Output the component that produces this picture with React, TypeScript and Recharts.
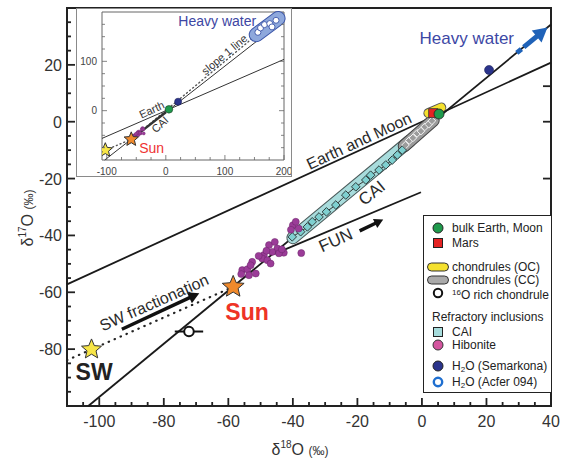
import {
  ErrorBar,
  ReferenceArea,
  ReferenceDot,
  ReferenceLine,
  Scatter,
  ScatterChart,
  XAxis,
  YAxis,
} from "recharts";

const FONT = "'Liberation Sans', Arial, Helvetica, sans-serif";

// ---- main panel axes ----
const xTicks = [
  -105, -100, -95, -90, -85, -80, -75, -70, -65, -60, -55, -50, -45, -40, -35,
  -30, -25, -20, -15, -10, -5, 0, 5, 10, 15, 20, 25, 30, 35, 40,
];
const xTickLabels = [-100, -80, -60, -40, -20, 0, 20, 40];
const yTicks = [
  -95, -90, -85, -80, -75, -70, -65, -60, -55, -50, -45, -40, -35, -30, -25,
  -20, -15, -10, -5, 0, 5, 10, 15, 20, 25, 30, 35,
];
const yTickLabels = [-80, -60, -40, -20, 0, 20];
const topTicks = [-20, 0, 20];
const rightTicks = [-20, 0, 12.5];

// ---- inset axes ----
const insetXTicks = [-100, -75, -50, -25, 0, 25, 50, 75, 100, 125, 150, 175, 200];
const insetXLabels = [-100, 0, 100, 200];
const insetYTicks = [-75, -50, -25, 0, 25, 50, 75, 100, 125, 150, 175];
const insetYLabels = [0, 100];

// ---- samples (δ18O, δ17O in ‰) ----
const sw = [{ x: -102.4, y: -80.1 }];
const sun = [{ x: -58.5, y: -58.1 }];
const bulkEarth = [{ x: 5.3, y: 2.7 }];
const mars = [{ x: 3.5, y: 3.0 }];
const semarkona = [{ x: 20.8, y: 18.2 }];
const o16Chondrule = [{ x: -72.2, y: -73.8, err: 4.4 }];

const cai = [
  { x: -40.2, y: -40.5 }, { x: -37.6, y: -38.7 }, { x: -35.5, y: -37.0 },
  { x: -34.0, y: -35.2 }, { x: -31.9, y: -33.5 }, { x: -29.6, y: -31.7 },
  { x: -26.7, y: -29.3 }, { x: -23.6, y: -25.8 }, { x: -20.5, y: -22.9 },
  { x: -17.4, y: -20.5 }, { x: -15.9, y: -18.8 }, { x: -13.3, y: -17.0 },
  { x: -11.2, y: -15.2 }, { x: -9.2, y: -13.5 }, { x: -7.6, y: -11.7 },
  { x: -6.1, y: -10.0 },
];

const ccChondrules = [
  { x: -5.1, y: -8.2 }, { x: -3.9, y: -6.6 }, { x: -2.8, y: -5.7 },
  { x: -1.5, y: -4.1 }, { x: -0.3, y: -3.3 }, { x: 0.9, y: -1.8 },
  { x: 2.1, y: -0.9 }, { x: 3.1, y: 0.3 },
];

const hibonite = [
  { x: -40.0, y: -36.4 }, { x: -39.1, y: -35.2 }, { x: -40.6, y: -38.0 },
  { x: -38.2, y: -37.6 }, { x: -47.4, y: -43.4 }, { x: -45.6, y: -42.3 },
  { x: -44.8, y: -44.6 }, { x: -46.4, y: -45.8 }, { x: -49.0, y: -46.9 },
  { x: -49.5, y: -48.1 }, { x: -47.9, y: -48.7 }, { x: -46.9, y: -49.9 },
  { x: -42.8, y: -46.1 }, { x: -37.4, y: -46.2 }, { x: -52.6, y: -49.3 },
  { x: -55.7, y: -52.2 }, { x: -54.1, y: -51.9 }, { x: -53.6, y: -54.0 },
  { x: -51.5, y: -53.4 }, { x: -56.0, y: -53.6 }, { x: -53.1, y: -50.5 },
  { x: -44.3, y: -46.3 }, { x: -48.2, y: -45.4 }, { x: -50.6, y: -47.2 },
  { x: -43.4, y: -44.9 },
];

const acfer094 = [
  { x: 155.8, y: 158.8 }, { x: 160.3, y: 167.7 }, { x: 167.0, y: 174.4 },
  { x: 175.9, y: 176.5 }, { x: 186.5, y: 183.2 }, { x: 179.7, y: 169.8 },
];

// ---- lines, bands and arrows (end points in data units) ----
const slopeLine = [{ x: -103.4, y: -100 }, { x: 40, y: 34.2 }];
const tflLine = [{ x: -110, y: -57.2 }, { x: 40, y: 20.8 }];
const funLine = [{ x: -45.7, y: -46.5 }, { x: -0.3, y: -24.8 }];
const swFracLine = [{ x: -110, y: -83.9 }, { x: -58.5, y: -58.1 }];
const caiBand = [{ x: -40, y: -40.8 }, { x: -4, y: -7 }];
const ccBand = [{ x: -5.5, y: -8.5 }, { x: 3.5, y: 0.5 }];
const ocBand = [{ x: 2, y: 3 }, { x: 6, y: 5 }];
const heavyWaterArrow = [{ x: 29.4, y: 24.2 }, { x: 38.9, y: 33.1 }];
const swArrow = [{ x: -93, y: -73 }, { x: -69, y: -60.3 }];
const funArrow = [{ x: -19.3, y: -38.4 }, { x: -12, y: -34.4 }];

const insetTfl = [{ x: -108, y: -56.2 }, { x: 200, y: 104 }];
const insetSlopeLine = [{ x: -103.4, y: -100 }, { x: 200, y: 184 }];
const slopeOneLine = [{ x: -58.5, y: -58 }, { x: 200, y: 200 }];
const insetSwLine = [{ x: -102.4, y: -80.1 }, { x: -58.5, y: -58.1 }];
const insetCai = [{ x: -42, y: -42.5 }, { x: 0, y: -3.2 }];
const heavyWaterBand = [{ x: 153, y: 154 }, { x: 190, y: 187 }];

// ---- helpers ----
function starPoints(cx: number, cy: number, r: number) {
  const pts: string[] = [];
  for (let i = 0; i < 10; i++) {
    const rad = i % 2 === 0 ? r : r * 0.45;
    const a = -Math.PI / 2 + (i * Math.PI) / 5;
    pts.push(`${cx + rad * Math.cos(a)},${cy + rad * Math.sin(a)}`);
  }
  return pts.join(" ");
}

const starShape = (fill: string, r: number) => (p: any) => (
  <polygon points={starPoints(p.cx, p.cy, r)} fill={fill} stroke="#333" strokeWidth={1} />
);

const dotShape = (fill: string, stroke: string, r: number, sw = 0.8) => (p: any) => (
  <circle cx={p.cx} cy={p.cy} r={r} fill={fill} stroke={stroke} strokeWidth={sw} />
);

const diamondShape = (fill: string, stroke: string, s: number, sw = 0.8) => (p: any) => (
  <polygon
    points={`${p.cx},${p.cy - s} ${p.cx + s},${p.cy} ${p.cx},${p.cy + s} ${p.cx - s},${p.cy}`}
    fill={fill}
    stroke={stroke}
    strokeWidth={sw}
  />
);

const capsule = (fill: string, stroke: string, w: number) => (p: any) => (
  <g>
    <line x1={p.x1} y1={p.y1} x2={p.x2} y2={p.y2} stroke={stroke} strokeWidth={w + 2} strokeLinecap="round" />
    <line x1={p.x1} y1={p.y1} x2={p.x2} y2={p.y2} stroke={fill} strokeWidth={w} strokeLinecap="round" />
  </g>
);

const arrowShape = (color: string, w: number, head: number, dashed = false) => (p: any) => {
  const dx = p.x2 - p.x1;
  const dy = p.y2 - p.y1;
  const len = Math.hypot(dx, dy);
  const ux = dx / len;
  const uy = dy / len;
  const bx = p.x2 - ux * head;
  const by = p.y2 - uy * head;
  const hw = head * 0.55;
  return (
    <g>
      <line
        x1={p.x1}
        y1={p.y1}
        x2={bx + ux}
        y2={by + uy}
        stroke={color}
        strokeWidth={w}
        strokeDasharray={dashed ? `6 3 ${len} 0` : undefined}
      />
      <polygon
        points={`${p.x2},${p.y2} ${bx - uy * hw},${by + ux * hw} ${bx + uy * hw},${by - ux * hw}`}
        fill={color}
      />
    </g>
  );
};

const textShape = (text: string, angle: number, size: number, color: string, bold = false) => (p: any) => (
  <text
    x={p.cx}
    y={p.cy}
    transform={`rotate(${angle} ${p.cx} ${p.cy})`}
    textAnchor="middle"
    dominantBaseline="central"
    fontFamily={FONT}
    fontSize={size}
    fontWeight={bold ? 700 : 400}
    fill={color}
  >
    {text}
  </text>
);

// ---- axis tick renderers (ticks point inwards) ----
const BottomTick = (p: any) => {
  const major = xTickLabels.includes(p.payload.value);
  return (
    <g>
      <line x1={p.x} y1={p.y} x2={p.x} y2={p.y - (major ? 8 : 4)} stroke="#222" strokeWidth={1.8} />
      {major && (
        <text x={p.x} y={p.y + 21} textAnchor="middle" fontFamily={FONT} fontSize={16} fill="#333">
          {p.payload.value}
        </text>
      )}
    </g>
  );
};

const LeftTick = (p: any) => {
  const major = yTickLabels.includes(p.payload.value);
  return (
    <g>
      <line x1={p.x} y1={p.y} x2={p.x + (major ? 8 : 4)} y2={p.y} stroke="#222" strokeWidth={1.8} />
      {major && (
        <text x={p.x - 5} y={p.y + 6} textAnchor="end" fontFamily={FONT} fontSize={16} fill="#333">
          {p.payload.value}
        </text>
      )}
    </g>
  );
};

const TopTick = (p: any) => (
  <line x1={p.x} y1={p.y} x2={p.x} y2={p.y + 8} stroke="#222" strokeWidth={1.8} />
);

const RightTick = (p: any) => (
  <line x1={p.x} y1={p.y} x2={p.x - 8} y2={p.y} stroke="#222" strokeWidth={1.8} />
);

const InsetBottomTick = (p: any) => {
  const major = insetXLabels.includes(p.payload.value);
  return (
    <g>
      <line x1={p.x} y1={p.y} x2={p.x} y2={p.y - (major ? 5 : 3)} stroke="#666" strokeWidth={0.8} />
      {major && (
        <text x={p.x} y={p.y + 15} textAnchor="middle" fontFamily={FONT} fontSize={10} fill="#444">
          {p.payload.value}
        </text>
      )}
    </g>
  );
};

const InsetTopTick = (p: any) => {
  const major = insetXLabels.includes(p.payload.value);
  return <line x1={p.x} y1={p.y} x2={p.x} y2={p.y + (major ? 5 : 3)} stroke="#666" strokeWidth={0.8} />;
};

const InsetLeftTick = (p: any) => {
  const major = insetYLabels.includes(p.payload.value);
  return (
    <g>
      <line x1={p.x} y1={p.y} x2={p.x + (major ? 5 : 3)} y2={p.y} stroke="#666" strokeWidth={0.8} />
      {major && (
        <text x={p.x - 5} y={p.y + 3.5} textAnchor="end" fontFamily={FONT} fontSize={10} fill="#444">
          {p.payload.value}
        </text>
      )}
    </g>
  );
};

const InsetRightTick = (p: any) => {
  const major = insetYLabels.includes(p.payload.value);
  return <line x1={p.x} y1={p.y} x2={p.x - (major ? 5 : 3)} y2={p.y} stroke="#666" strokeWidth={0.8} />;
};

function Inset() {
  return (
    <div
      style={{
        position: "absolute",
        left: 76,
        top: 8,
        width: 216,
        height: 169,
        boxSizing: "border-box",
        border: "1px solid #8a8a8a",
        background: "#fff",
      }}
    >
      <ScatterChart width={214} height={167} margin={{ top: 2, right: 6, bottom: 15, left: 24 }}>
        <XAxis type="number" dataKey="x" domain={[-108, 200]} allowDataOverflow ticks={insetXTicks} interval={0}
          tick={InsetBottomTick} tickLine={false} axisLine={false} tickSize={0} tickMargin={0} height={1} />
        <XAxis xAxisId="t" orientation="top" type="number" domain={[-108, 200]} allowDataOverflow ticks={insetXTicks}
          interval={0} tick={InsetTopTick} tickLine={false} axisLine={false} tickSize={0} tickMargin={0} height={1} />
        <YAxis type="number" dataKey="y" domain={[-100, 200]} allowDataOverflow ticks={insetYTicks} interval={0}
          tick={InsetLeftTick} tickLine={false} axisLine={false} tickSize={0} tickMargin={0} width={1} />
        <YAxis yAxisId="r" orientation="right" type="number" domain={[-100, 200]} allowDataOverflow ticks={insetYTicks}
          interval={0} tick={InsetRightTick} tickLine={false} axisLine={false} tickSize={0} tickMargin={0} width={1} />

        <ReferenceArea x1={-108} x2={200} y1={-100} y2={200} fill="none" stroke="#666" strokeWidth={1} ifOverflow="visible" />
        <ReferenceLine segment={insetTfl} stroke="#333" strokeWidth={1} ifOverflow="visible" />
        <ReferenceLine segment={insetSlopeLine} stroke="#333" strokeWidth={1} ifOverflow="visible" />
        <ReferenceLine segment={slopeOneLine} stroke="#555" strokeWidth={1.4} strokeDasharray="1 3" strokeLinecap="round" ifOverflow="visible" />
        <ReferenceLine segment={insetSwLine} stroke="#555" strokeWidth={1.4} strokeDasharray="1 3" strokeLinecap="round" ifOverflow="visible" />
        <ReferenceLine segment={insetCai} stroke="#333" strokeWidth={2.5} ifOverflow="visible" />
        <ReferenceLine segment={heavyWaterBand} shape={capsule("#8ea8dc", "#3b55a8", 13)} ifOverflow="visible" />

        <Scatter data={hibonite} shape={dotShape("#9b3c98", "#6a2468", 1.6, 0.3)} isAnimationActive={false} />
        <Scatter data={acfer094} shape={dotShape("#fff", "#3b55a8", 3, 0.9)} isAnimationActive={false} />
        <Scatter data={bulkEarth} shape={dotShape("#1f9a4c", "#1a3a22", 3.8, 0.6)} isAnimationActive={false} />
        <Scatter data={semarkona} shape={dotShape("#2b348c", "#1a1f55", 3.5, 0.6)} isAnimationActive={false} />
        <Scatter data={sun} shape={starShape("#f08a2c", 7.5)} isAnimationActive={false} />
        <Scatter data={sw} shape={starShape("#f7e547", 7.5)} isAnimationActive={false} />

        <ReferenceDot x={87} y={182} r={0} shape={textShape("Heavy water", 0, 14, "#3d46a3")} />
        <ReferenceDot x={99} y={114} r={0} shape={textShape("slope 1 line", -40, 11, "#333")} />
        <ReferenceDot x={-24} y={2} r={0} shape={textShape("Earth", -25, 11, "#333")} />
        <ReferenceDot x={-10} y={-28} r={0} shape={textShape("CAI", -42, 11, "#333")} />
        <ReferenceDot x={-24} y={-76} r={0} shape={textShape("Sun", 0, 14, "#ee3333")} />
      </ScatterChart>
    </div>
  );
}

function LegendRow({ cy, left = 28, icon, children }: { cy: number; left?: number; icon?: any; children: any }) {
  return (
    <div style={{ position: "absolute", left: 0, top: cy - 8, height: 16, width: "100%" }}>
      {icon && (
        <svg width={24} height={16} style={{ position: "absolute", left: 2, top: 0 }}>
          {icon}
        </svg>
      )}
      <div style={{ position: "absolute", left, top: 0, lineHeight: "16px", fontSize: 12, whiteSpace: "nowrap", color: "#222" }}>
        {children}
      </div>
    </div>
  );
}

function Legend() {
  return (
    <div
      style={{
        position: "absolute",
        left: 423,
        top: 215,
        width: 129,
        height: 178,
        boxSizing: "border-box",
        border: "1.5px solid #222",
        background: "#fff",
        fontFamily: FONT,
      }}
    >
      <LegendRow cy={12} icon={<circle cx={12} cy={8} r={5} fill="#1f9a4c" stroke="#222" strokeWidth={1} />}>
        bulk Earth, Moon
      </LegendRow>
      <LegendRow cy={27} icon={<rect x={7.5} y={3.5} width={9} height={9} fill="#e52323" stroke="#222" strokeWidth={1} />}>
        Mars
      </LegendRow>
      <LegendRow cy={51} icon={<rect x={1.5} y={4} width={21} height={8} rx={4} fill="#f5e12e" stroke="#333" strokeWidth={1} />}>
        chondrules (OC)
      </LegendRow>
      <LegendRow cy={64} icon={<rect x={1.5} y={4} width={21} height={8} rx={4} fill="#aaa" stroke="#333" strokeWidth={1} />}>
        chondrules (CC)
      </LegendRow>
      <LegendRow cy={77} icon={<circle cx={12} cy={8} r={4.2} fill="#fff" stroke="#111" strokeWidth={2} />}>
        <sup style={{ fontSize: 8, verticalAlign: "4px" }}>16</sup>O rich chondrule
      </LegendRow>
      <LegendRow cy={101} left={8}>
        Refractory inclusions
      </LegendRow>
      <LegendRow cy={116} icon={<rect x={7.5} y={3.5} width={9} height={9} fill="#a6dcdc" stroke="#222" strokeWidth={1} />}>
        CAI
      </LegendRow>
      <LegendRow cy={129} icon={<circle cx={12} cy={8} r={5} fill="#d4559f" stroke="#333" strokeWidth={1} />}>
        Hibonite
      </LegendRow>
      <LegendRow cy={150} icon={<circle cx={12} cy={8} r={5} fill="#2b348c" stroke="#222" strokeWidth={1} />}>
        H<sub style={{ fontSize: 8, verticalAlign: "-2px" }}>2</sub>O (Semarkona)
      </LegendRow>
      <LegendRow cy={166} icon={<circle cx={12} cy={8} r={4.2} fill="#fff" stroke="#1f6fd0" strokeWidth={2.4} />}>
        H<sub style={{ fontSize: 8, verticalAlign: "-2px" }}>2</sub>O (Acfer 094)
      </LegendRow>
    </div>
  );
}

export default function App() {
  return (
    <div style={{ position: "absolute", left: 0, top: 0, width: 565, height: 464, background: "#fff", fontFamily: FONT }}>
      <ScatterChart width={565} height={464} margin={{ top: 7, right: 13, bottom: 57, left: 66 }}>
        <XAxis type="number" dataKey="x" domain={[-110, 40]} allowDataOverflow ticks={xTicks} interval={0}
          tick={BottomTick} tickLine={false} axisLine={false} tickSize={0} tickMargin={0} height={1} />
        <XAxis xAxisId="t" orientation="top" type="number" domain={[-110, 40]} allowDataOverflow ticks={topTicks}
          interval={0} tick={TopTick} tickLine={false} axisLine={false} tickSize={0} tickMargin={0} height={1} />
        <YAxis type="number" dataKey="y" domain={[-100, 40]} allowDataOverflow ticks={yTicks} interval={0}
          tick={LeftTick} tickLine={false} axisLine={false} tickSize={0} tickMargin={0} width={1} />
        <YAxis yAxisId="r" orientation="right" type="number" domain={[-100, 40]} allowDataOverflow ticks={rightTicks}
          interval={0} tick={RightTick} tickLine={false} axisLine={false} tickSize={0} tickMargin={0} width={1} />

        <ReferenceArea x1={-110} x2={40} y1={-100} y2={40} fill="none" stroke="#222" strokeWidth={2} ifOverflow="visible" />

        <ReferenceLine segment={tflLine} stroke="#1a1a1a" strokeWidth={1.8} ifOverflow="visible" />
        <ReferenceLine segment={slopeLine} stroke="#1a1a1a" strokeWidth={1.8} ifOverflow="visible" />
        <ReferenceLine segment={funLine} stroke="#1a1a1a" strokeWidth={1.8} ifOverflow="visible" />
        <ReferenceLine segment={swFracLine} stroke="#222" strokeWidth={2.2} strokeDasharray="0.5 6" strokeLinecap="round" ifOverflow="visible" />
        <ReferenceLine segment={caiBand} shape={capsule("#a8dcdc", "#4a5a5a", 11)} ifOverflow="visible" />
        <ReferenceLine segment={ccBand} shape={capsule("#9c9c9c", "#444", 11)} ifOverflow="visible" />
        <ReferenceLine segment={ocBand} shape={capsule("#f5e12e", "#555", 8)} ifOverflow="visible" />
        <ReferenceLine segment={heavyWaterArrow} shape={arrowShape("#1f62b8", 5, 14, true)} ifOverflow="visible" />
        <ReferenceLine segment={swArrow} shape={arrowShape("#111", 3.5, 11)} ifOverflow="visible" />
        <ReferenceLine segment={funArrow} shape={arrowShape("#111", 3.5, 9)} ifOverflow="visible" />

        <Scatter data={ccChondrules} shape={diamondShape("#9c9c9c", "#f4f4f4", 3.8, 1)} isAnimationActive={false} />
        <Scatter data={cai} line={{ stroke: "#333", strokeWidth: 1 }} shape={diamondShape("#7fd0d0", "#2f3f3f", 4.3, 1)} isAnimationActive={false} />
        <Scatter data={hibonite} shape={dotShape("#9b3c98", "#6a2468", 3.5, 0.5)} isAnimationActive={false} />
        <Scatter data={o16Chondrule} shape={dotShape("#fff", "#111", 4.8, 2)} isAnimationActive={false}>
          <ErrorBar dataKey="err" direction="x" width={0} stroke="#111" strokeWidth={2} />
        </Scatter>
        <Scatter data={mars} shape={(p: any) => (
          <rect x={p.cx - 4.5} y={p.cy - 4.5} width={9} height={9} fill="#e52323" stroke="#333" strokeWidth={0.8} />
        )} isAnimationActive={false} />
        <Scatter data={bulkEarth} shape={dotShape("#1f9a4c", "#222", 5, 0.8)} isAnimationActive={false} />
        <Scatter data={semarkona} shape={dotShape("#2b348c", "#1a1f55", 4.5, 0.6)} isAnimationActive={false} />
        <Scatter data={sw} shape={starShape("#f7e547", 10.5)} isAnimationActive={false} />
        <Scatter data={sun} shape={starShape("#f08a2c", 11.5)} isAnimationActive={false} />

        <ReferenceDot x={13.9} y={29.1} r={0} shape={textShape("Heavy water", 0, 17, "#3d48a5")} />
        <ReferenceDot x={-19.5} y={-6.8} r={0} shape={textShape("Earth and Moon", -25, 16, "#2a2a2a")} />
        <ReferenceDot x={-15.5} y={-25.1} r={0} shape={textShape("CAI", -39, 17, "#2a2a2a")} />
        <ReferenceDot x={-26.7} y={-41.7} r={0} shape={textShape("FUN", -24, 17, "#2a2a2a")} />
        <ReferenceDot x={-83} y={-63.6} r={0} shape={textShape("SW fractionation", -24, 16, "#2a2a2a")} />
        <ReferenceDot x={-54.2} y={-66.9} r={0} shape={textShape("Sun", 0, 23, "#ee3326", true)} />
        <ReferenceDot x={-101.6} y={-88} r={0} shape={textShape("SW", 0, 23, "#222", true)} />
      </ScatterChart>

      <svg width={565} height={464} style={{ position: "absolute", left: 0, top: 0, pointerEvents: "none" }}>
        <text x={300} y={455} textAnchor="middle" fontFamily={FONT} fontSize={16} fill="#333">
          δ<tspan fontSize={10} dy={-7}>18</tspan>
          <tspan dy={7}>O </tspan>
          <tspan fontSize={12}>(‰)</tspan>
        </text>
        <text x={33} y={218} textAnchor="middle" transform="rotate(-90 33 218)" fontFamily={FONT} fontSize={16} fill="#333">
          δ<tspan fontSize={10} dy={-7}>17</tspan>
          <tspan dy={7}>O </tspan>
          <tspan fontSize={12}>(‰)</tspan>
        </text>
      </svg>

      <Inset />
      <Legend />
    </div>
  );
}
